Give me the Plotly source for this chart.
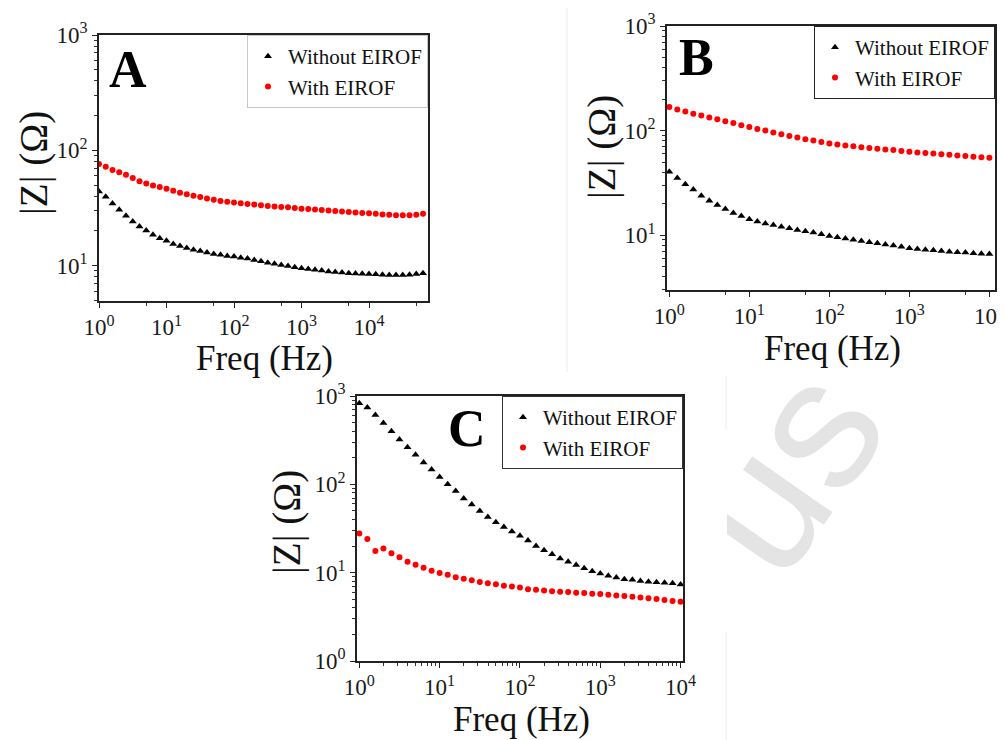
import plotly.graph_objects as go

# ---------------- data ----------------
FREQ_B = [1, 1.259, 1.585, 1.995, 2.512, 3.162, 3.981, 5.012, 6.310, 7.943,
          10, 12.59, 15.85, 19.95, 25.12, 31.62, 39.81, 50.12, 63.10, 79.43,
          100, 125.9, 158.5, 199.5, 251.2, 316.2, 398.1, 501.2, 631.0, 794.3,
          1000, 1259, 1585, 1995, 2512, 3162, 3981, 5012, 6310, 7943, 10000]
FREQ_A = FREQ_B + [12589, 15849, 19953, 25119, 31623, 39811, 50119, 63096]
FREQ_C = FREQ_B

A_WITHOUT = [44, 39.5, 34.5, 30.5, 27, 24.1, 21.8, 20.2, 18.5, 17.3,
             16.4, 15.4, 14.8, 14.2, 13.7, 13.4, 13.0, 12.6, 12.4, 12.1,
             12.0, 11.7, 11.5, 11.2, 10.9, 10.6, 10.4, 10.1, 9.9, 9.7,
             9.5, 9.35, 9.2, 9.05, 8.9, 8.8, 8.7, 8.6, 8.55, 8.5,
             8.45, 8.4, 8.35, 8.3, 8.3, 8.3, 8.35, 8.45, 8.6]
A_WITH = [76, 72, 67.5, 64.5, 61.5, 57.5, 54, 51.5, 49.5, 48,
          46.4, 44.6, 42.8, 41.6, 40.4, 39.3, 38.1, 37.3, 36.4, 35.8,
          35.3, 34.8, 34.3, 33.8, 33.3, 32.9, 32.6, 32.3, 32.0, 31.6,
          31.2, 30.9, 30.6, 30.3, 30.0, 29.7, 29.4, 29.1, 28.9, 28.6,
          28.4, 28.1, 27.8, 27.6, 27.4, 27.3, 27.3, 27.6, 28.1]

B_WITHOUT = [40.3, 35.2, 30.7, 27.3, 23.8, 21.3, 19.4, 17.8, 16.3, 15.2,
             14.2, 13.5, 12.9, 12.5, 12.0, 11.6, 11.2, 10.9, 10.6, 10.2,
             9.8, 9.55, 9.3, 9.05, 8.8, 8.55, 8.35, 8.15, 7.95, 7.75,
             7.5, 7.35, 7.25, 7.15, 7.05, 6.95, 6.85, 6.8, 6.7, 6.65, 6.6]
B_WITH = [168, 159, 152, 145, 139, 133, 128, 123, 118, 112.4,
          108, 103.5, 100, 95.7, 92.2, 88.8, 85.7, 82.6, 80.2, 77.8,
          75, 73.5, 72, 70.7, 69.4, 68.2, 67.0, 66.0, 65.0, 63.8,
          62.7, 61.8, 61.0, 60.2, 59.4, 58.6, 57.8, 57.0, 56.2, 55.4, 54.8]

C_WITHOUT = [826, 743, 611, 496, 399, 322, 263, 216, 177, 147,
             121, 100, 84, 69, 59, 50, 42.8, 37.3, 32.8, 29.3,
             26.1, 23.2, 20.1, 17.9, 16.2, 14.5, 13.3, 12.2, 11.2, 10.4,
             9.8, 9.25, 8.8, 8.4, 8.3, 8.07, 7.9, 7.8, 7.7, 7.6, 7.35]
C_WITH = [27.8, 24.0, 17.6, 18.8, 16.6, 14.9, 13.3, 12.3, 11.4, 10.5,
          9.9, 9.5, 8.87, 8.56, 8.2, 7.85, 7.6, 7.4, 7.13, 6.95,
          6.78, 6.5, 6.4, 6.29, 6.18, 6.08, 6.03, 5.92, 5.87, 5.77,
          5.72, 5.62, 5.53, 5.43, 5.34, 5.25, 5.12, 5.03, 4.9, 4.78, 4.7]

SERIES_NAMES = ["Without EIROF", "With EIROF"]
PANEL_LABELS = ["A", "B", "C"]
X_TITLE = "Freq (Hz)"
Y_TITLE = "|Z| (Ω)"
MAJOR_TICKS = [1, 10, 100, 1000, 10000]
MAJOR_TEXT = ["10<sup>0</sup>", "10<sup>1</sup>", "10<sup>2</sup>",
              "10<sup>3</sup>", "10<sup>4</sup>"]

# ---------------- layout helpers ----------------
# the page body has an 8px margin, so the figure is shifted by 8px;
# positions below are given in screen pixels and converted here.
OFF = 8
FW, FH = 1005 - OFF, 740 - OFF
SERIF = "Liberation Serif, Times New Roman, serif"


def px_x(p):
    return (p - OFF) / FW


def px_y(p):
    return 1 - (p - OFF) / FH


def minor_all(lo, hi):
    vals = []
    for e in range(lo, hi + 1):
        for m in range(2, 10):
            vals.append(m * 10 ** e)
    return vals


def minor_five(lo, hi):
    return [5 * 10 ** e for e in range(lo, hi + 1)]


panels = [
    dict(freq=FREQ_A, wo=A_WITHOUT, wi=A_WITH,
         xdom=(99, 428), ydom=(35, 301), xr=[0, 4.874], yr=[0.693, 3],
         xminor=minor_five(0, 4), yminor=minor_all(0, 2),
         label_xy=(128, 70), xt_xy=(264, 358), yt_xy=(34, 163),
         leg=dict(right=428, top=35, border="#c8c8c8")),
    dict(freq=FREQ_B, wo=B_WITHOUT, wi=B_WITH,
         xdom=(667, 995), ydom=(26, 290), xr=[-0.029, 4.07], yr=[0.475, 3],
         xminor=minor_five(0, 3), yminor=minor_all(0, 2),
         label_xy=(696, 57), xt_xy=(832, 348), yt_xy=(602, 147),
         leg=dict(right=995, top=26, border="#222222")),
    dict(freq=FREQ_C, wo=C_WITHOUT, wi=C_WITH,
         xdom=(357, 683), ydom=(396, 661), xr=[-0.029, 4.03], yr=[0, 3],
         xminor=minor_all(0, 3), yminor=minor_all(0, 2),
         label_xy=(467, 428), xt_xy=(521, 719), yt_xy=(287, 522),
         leg=dict(right=683, top=396, border="#333333")),
]

fig = go.Figure()
annotations = []
layout = dict(
    width=FW, height=FH,
    margin=dict(l=0, r=0, t=0, b=0, autoexpand=False),
    paper_bgcolor="white", plot_bgcolor="white",
    font=dict(family=SERIF, color="#111111"),
)

# faint edges of the pasted panel pictures
layout["shapes"] = [
    dict(type="line", xref="paper", yref="paper", layer="below",
         x0=px_x(567), x1=px_x(567), y0=px_y(0), y1=px_y(372),
         line=dict(color="#ececec", width=1)),
    dict(type="line", xref="paper", yref="paper", layer="below",
         x0=px_x(726), x1=px_x(726), y0=px_y(376), y1=px_y(740),
         line=dict(color="#ececec", width=1)),
]

# watermark (light grey text partly hidden by the panel pictures)
annotations.append(dict(
    text="us", xref="paper", yref="paper", x=px_x(784), y=px_y(470),
    xanchor="center", yanchor="middle", showarrow=False, textangle=-55,
    font=dict(family="Liberation Sans, Arial, sans-serif", size=185, color="#e4e4e4"),
))
# white mask emulating the edge of panel C's picture
annotations.append(dict(
    text=" ", xref="paper", yref="paper", x=px_x(688), y=px_y(430),
    xanchor="left", yanchor="top", showarrow=False, width=37, height=200,
    bgcolor="white", borderwidth=0,
))
# white mask emulating the bottom edge of panel B's picture
annotations.append(dict(
    text=" ", xref="paper", yref="paper", x=px_x(730), y=px_y(330),
    xanchor="left", yanchor="top", showarrow=False, width=270, height=45,
    bgcolor="white", borderwidth=0,
))

for i, p in enumerate(panels):
    n = "" if i == 0 else str(i + 1)
    xa, ya = "x" + n, "y" + n
    legname = "legend" + n

    fig.add_trace(go.Scatter(
        x=p["freq"], y=p["wo"], mode="markers", name=SERIES_NAMES[0],
        xaxis=xa, yaxis=ya, legend=legname,
        marker=dict(symbol="triangle-up", size=7, color="black", line=dict(width=0)),
    ))
    fig.add_trace(go.Scatter(
        x=p["freq"], y=p["wi"], mode="markers", name=SERIES_NAMES[1],
        xaxis=xa, yaxis=ya, legend=legname,
        marker=dict(symbol="circle", size=6, color="#ff0000", line=dict(width=0)),
    ))

    common = dict(
        type="log", showgrid=False, zeroline=False, showline=True, mirror=True,
        linecolor="#222222", linewidth=1.5, ticks="outside", ticklen=5, tickwidth=1,
        tickcolor="#222222", tickmode="array", tickvals=MAJOR_TICKS, ticktext=MAJOR_TEXT,
        tickfont=dict(family=SERIF, size=23, color="#1a1a1a"), automargin=False,
        ticklabeloverflow="allow",
    )
    layout["xaxis" + n] = dict(
        common, domain=[px_x(p["xdom"][0]), px_x(p["xdom"][1])], range=p["xr"],
        anchor=ya,
        minor=dict(ticks="outside", ticklen=3, tickwidth=1, tickcolor="#333333",
                   tickmode="array", tickvals=p["xminor"], showgrid=False),
    )
    layout["yaxis" + n] = dict(
        common, domain=[px_y(p["ydom"][1]), px_y(p["ydom"][0])], range=p["yr"],
        anchor=xa,
        minor=dict(ticks="outside", ticklen=3, tickwidth=1, tickcolor="#333333",
                   tickmode="array", tickvals=p["yminor"], showgrid=False),
    )
    layout[legname] = dict(
        x=px_x(p["leg"]["right"]), y=px_y(p["leg"]["top"]),
        xanchor="right", yanchor="top",
        bgcolor="white", bordercolor=p["leg"]["border"], borderwidth=1,
        font=dict(family=SERIF, size=21, color="#111111"),
        tracegroupgap=0, itemsizing="trace",
    )

    annotations.append(dict(
        text=X_TITLE, xref="paper", yref="paper",
        x=px_x(p["xt_xy"][0]), y=px_y(p["xt_xy"][1]),
        xanchor="center", yanchor="middle", showarrow=False,
        font=dict(family=SERIF, size=35, color="#111111"),
    ))
    annotations.append(dict(
        text=Y_TITLE, xref="paper", yref="paper",
        x=px_x(p["yt_xy"][0]), y=px_y(p["yt_xy"][1]),
        xanchor="center", yanchor="middle", showarrow=False, textangle=-90,
        font=dict(family=SERIF, size=39, color="#111111"),
    ))
    annotations.append(dict(
        text="<b>" + PANEL_LABELS[i] + "</b>", xref="paper", yref="paper",
        x=px_x(p["label_xy"][0]), y=px_y(p["label_xy"][1]),
        xanchor="center", yanchor="middle", showarrow=False,
        font=dict(family=SERIF, size=52, color="#000000"),
    ))

layout["annotations"] = annotations
layout["showlegend"] = True
fig.update_layout(**layout)
fig.write_html("out.html")
